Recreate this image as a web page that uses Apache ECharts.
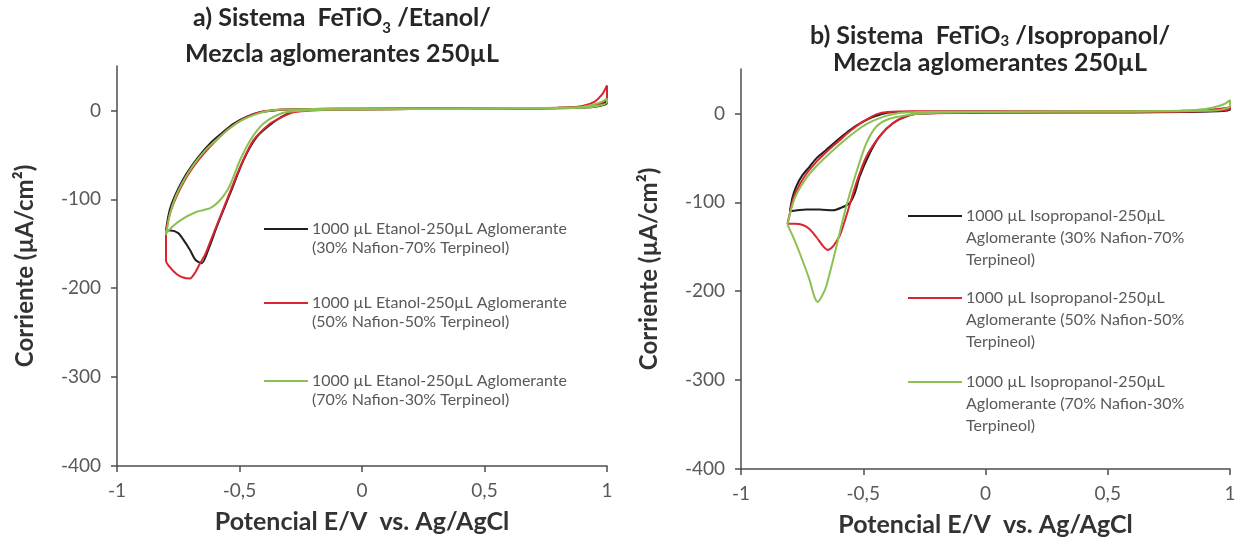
<!DOCTYPE html>
<html>
<head>
<meta charset="utf-8">
<script src="https://cdn.jsdelivr.net/npm/echarts@6/dist/echarts.min.js"></script>
<style>
  html, body { margin: 0; padding: 0; background: #ffffff; }
  #chart { width: 1241px; height: 544px; }
</style>
</head>
<body>
<div id="chart"></div>
<script>
// Voltammograms (E in V vs Ag/AgCl, current density in µA/cm²), each loop traced as a closed path.

// a) FeTiO3 / Etanol
const etanol30 = [
  [-0.80,-135],[-0.79,-118],[-0.777,-105],[-0.75,-88],[-0.716,-71],[-0.67,-53],[-0.62,-37],[-0.57,-25],
  [-0.525,-15],[-0.47,-7],[-0.416,-2],[-0.36,0],[-0.30,1],[-0.2,1.5],[0,2],[0.4,2.5],[0.8,3],[0.9,4],
  [0.95,6],[0.98,8],[1.0,10],
  [1.0,8],[0.97,5],[0.9,3],[0.6,2],[0.2,1.5],[-0.1,1],[-0.25,0],[-0.30,-3],[-0.36,-13],[-0.43,-30],
  [-0.484,-56],[-0.539,-94],[-0.593,-131],[-0.625,-155],[-0.654,-172],[-0.68,-168],[-0.702,-157],
  [-0.73,-145],[-0.75,-138],[-0.78,-135],[-0.80,-135]
];
const etanol50 = [
  [-0.80,-140],[-0.79,-122],[-0.77,-105],[-0.74,-87],[-0.70,-68],[-0.65,-50],[-0.60,-35],[-0.55,-22],
  [-0.50,-12],[-0.45,-5],[-0.40,-1],[-0.33,1],[-0.2,1.5],[0,2],[0.4,2.5],[0.8,3],[0.9,5],[0.95,10],
  [0.98,18],[1.0,28],
  [1.0,14],[0.97,7],[0.92,4],[0.6,2],[0.2,1.5],[-0.1,1],[-0.28,-2],[-0.33,-8],[-0.376,-15],[-0.444,-34],
  [-0.498,-64],[-0.552,-101],[-0.607,-139],[-0.64,-162],[-0.661,-172],[-0.68,-182],[-0.702,-189],
  [-0.73,-188],[-0.757,-184],[-0.785,-176],[-0.80,-169],[-0.80,-140]
];
const etanol70 = [
  [-0.80,-140],[-0.785,-118],[-0.765,-100],[-0.73,-80],[-0.69,-62],[-0.64,-45],[-0.59,-32],[-0.54,-20],
  [-0.49,-11],[-0.44,-5],[-0.39,-1],[-0.33,1],[-0.2,1.5],[0,2],[0.4,2.5],[0.8,3],[0.9,4],[0.95,7],
  [0.98,10],[1.0,13],
  [1.0,9],[0.96,5],[0.9,3],[0.6,2],[0.2,1.5],[-0.1,1],[-0.28,-1],[-0.335,-4],[-0.403,-15],[-0.457,-34],
  [-0.498,-56],[-0.525,-75],[-0.546,-88],[-0.58,-101],[-0.62,-110],[-0.675,-114],[-0.743,-124],
  [-0.797,-137],[-0.80,-140]
];

// b) FeTiO3 / Isopropanol
const isoprop30 = [
  [-0.80,-110],[-0.79,-95],[-0.774,-82],[-0.75,-70],[-0.72,-60],[-0.69,-50],[-0.652,-41],[-0.61,-31],
  [-0.57,-22],[-0.53,-14],[-0.488,-7.5],[-0.45,-3],[-0.406,0.5],[-0.35,1.5],[-0.2,2],[0,2],[0.4,2],
  [0.8,2.5],[0.9,3],[0.95,4],[1.0,6],
  [1.0,4],[0.95,2.5],[0.8,1.5],[0.4,1],[0,1],[-0.25,0],[-0.311,-2],[-0.379,-11],[-0.434,-26],
  [-0.474,-45],[-0.515,-71],[-0.535,-90],[-0.556,-101],[-0.59,-106],[-0.624,-109],[-0.68,-108],
  [-0.733,-108],[-0.77,-109],[-0.80,-110]
];
const isoprop50 = [
  [-0.81,-124],[-0.80,-112],[-0.785,-95],[-0.76,-80],[-0.73,-67],[-0.69,-54],[-0.65,-43],[-0.60,-31],
  [-0.55,-19],[-0.50,-9],[-0.474,-5],[-0.447,-1],[-0.40,1.5],[-0.3,2.5],[0,2.5],[0.4,2.5],[0.8,3],
  [0.9,4],[0.95,5],[1.0,7],
  [1.0,5],[0.95,3],[0.8,2],[0.4,1.5],[0,1],[-0.27,0],[-0.324,-3],[-0.379,-11],[-0.434,-26],[-0.488,-49],
  [-0.529,-79],[-0.57,-116],[-0.595,-137],[-0.61,-144],[-0.625,-150],[-0.645,-153.6],[-0.665,-149],
  [-0.692,-139],[-0.72,-130],[-0.747,-125.5],[-0.78,-124],[-0.81,-124]
];
const isoprop70 = [
  [-0.81,-125],[-0.795,-108],[-0.78,-95],[-0.755,-82],[-0.72,-68],[-0.68,-56],[-0.63,-43],[-0.58,-31],
  [-0.53,-20],[-0.48,-11],[-0.43,-5],[-0.38,-1],[-0.33,1],[-0.2,2],[0,2],[0.4,2.5],[0.8,3],[0.9,5],
  [0.95,8],[0.98,11],[1.0,15],
  [1.0,8],[0.96,4],[0.9,3],[0.6,2],[0,1.5],[-0.26,0],[-0.324,-2],[-0.393,-6],[-0.447,-15],[-0.488,-34],
  [-0.529,-67],[-0.57,-105],[-0.61,-150],[-0.652,-195],[-0.67,-206],[-0.686,-212],[-0.70,-206],
  [-0.72,-187],[-0.76,-157],[-0.79,-137],[-0.81,-125]
];

// Series labels
const namesEtanol = [
  '1000 µL Etanol-250µL Aglomerante\n(30% Nafion-70% Terpineol)',
  '1000 µL Etanol-250µL Aglomerante\n(50% Nafion-50% Terpineol)',
  '1000 µL Etanol-250µL Aglomerante\n(70% Nafion-30% Terpineol)'
];
const namesIsoprop = [
  '1000 µL Isopropanol-250µL\nAglomerante (30% Nafion-70%\nTerpineol)',
  '1000 µL Isopropanol-250µL\nAglomerante (50% Nafion-50%\nTerpineol)',
  '1000 µL Isopropanol-250µL\nAglomerante (70% Nafion-30%\nTerpineol)'
];

// Axis ticks
const xTicks = [-1, -0.5, 0, 0.5, 1];
const yTicks = [-400, -300, -200, -100, 0];

const colors = ['#1f1f1f', '#dc2430', '#8cc152'];
const FONT = 'Lato, "Open Sans", sans-serif';

function xAxisFor(gridIndex) {
  return {
    gridIndex, type: 'value', min: -1, max: 1, interval: 0.5,
    axisLine: { onZero: false, lineStyle: { color: '#4d4d4d', width: 1.5 } },
    axisTick: { show: true, inside: false, length: 6, customValues: xTicks, lineStyle: { color: '#4d4d4d', width: 1.5 } },
    axisLabel: {
      color: '#595959', fontFamily: FONT, fontSize: 19, margin: 15, customValues: xTicks,
      formatter: v => String(v).replace('.', ',')
    },
    splitLine: { show: false },
    name: 'Potencial E/V  vs. Ag/AgCl', nameLocation: 'middle', nameGap: 43,
    nameTextStyle: { color: '#333333', fontFamily: FONT, fontSize: 25, fontWeight: 'bold' }
  };
}
function yAxisFor(gridIndex) {
  return {
    gridIndex, type: 'value', min: -400, max: 50, interval: 100,
    axisLine: { onZero: false, lineStyle: { color: '#4d4d4d', width: 1.5 } },
    axisTick: { show: true, inside: false, length: 6, customValues: yTicks, lineStyle: { color: '#4d4d4d', width: 1.5 } },
    axisLabel: { color: '#595959', fontFamily: FONT, fontSize: 19, margin: 16, customValues: yTicks },
    splitLine: { show: false },
    name: 'Corriente (µA/cm²)', nameLocation: 'middle', nameGap: 80, nameRotate: 90,
    nameTextStyle: { color: '#333333', fontFamily: FONT, fontSize: 24, fontWeight: 'bold' }
  };
}
function lineSeries(name, data, idx, axisIdx) {
  return {
    name, type: 'line', data, xAxisIndex: axisIdx, yAxisIndex: axisIdx,
    showSymbol: false, smooth: 0.25, animation: false,
    lineStyle: { color: colors[idx], width: 2 }, itemStyle: { color: colors[idx] }
  };
}

// Legend drawn as plain graphic items: a sample stroke plus its label
function legendBlock(names, x0, x1, tx, rowsY, lineH, fs) {
  const items = [];
  names.forEach((n, i) => {
    items.push({
      type: 'line', shape: { x1: x0, y1: rowsY[i], x2: x1, y2: rowsY[i] },
      style: { stroke: colors[i], lineWidth: 2 }
    });
    items.push({
      type: 'text', x: tx, y: rowsY[i] - lineH / 2,
      style: { text: n, fill: '#595959', font: fs + 'px ' + FONT, lineHeight: lineH, verticalAlign: 'top' }
    });
  });
  return items;
}

function titleRich(lh) {
  return {
    m: { fontFamily: FONT, fontSize: 25, fontWeight: 'bold', color: '#262626', lineHeight: lh },
    s: { fontFamily: FONT, fontSize: 15, fontWeight: 'bold', color: '#262626', lineHeight: lh, verticalAlign: 'bottom' }
  };
}

const chart = echarts.init(document.getElementById('chart'), null, { renderer: 'canvas' });
chart.setOption({
  backgroundColor: '#ffffff',
  animation: false,
  title: [
    {
      text: '{m|a) Sistema  FeTiO}{s|3}{m| /Etanol/}\n{m|Mezcla aglomerantes 250µL}',
      left: 342, top: 0, textAlign: 'center', padding: 0,
      textStyle: { rich: titleRich(36) }
    },
    {
      text: '{m|b) Sistema  FeTiO}{s|3}{m| /Isopropanol/}\n{m|Mezcla aglomerantes 250µL}',
      left: 990, top: 22, textAlign: 'center', padding: 0,
      textStyle: { rich: titleRich(27) }
    }
  ],
  grid: [
    { left: 117, top: 66, width: 490, height: 400 },
    { left: 741, top: 69, width: 489, height: 400 }
  ],
  xAxis: [xAxisFor(0), xAxisFor(1)],
  yAxis: [yAxisFor(0), yAxisFor(1)],
  series: [
    lineSeries(namesEtanol[0], etanol30, 0, 0),
    lineSeries(namesEtanol[1], etanol50, 1, 0),
    lineSeries(namesEtanol[2], etanol70, 2, 0),
    lineSeries(namesIsoprop[0], isoprop30, 0, 1),
    lineSeries(namesIsoprop[1], isoprop50, 1, 1),
    lineSeries(namesIsoprop[2], isoprop70, 2, 1)
  ],
  graphic: [
    ...legendBlock(namesEtanol, 264, 308, 312, [229, 303, 381], 19, 16),
    ...legendBlock(namesIsoprop, 908, 962, 966, [216, 298, 382], 22, 16)
  ]
});
</script>
</body>
</html>
